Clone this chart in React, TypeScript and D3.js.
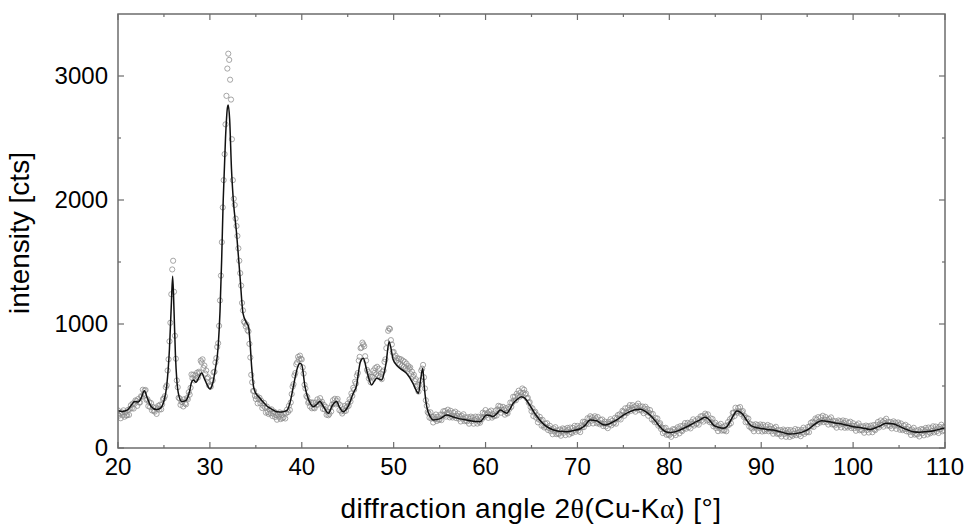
import React from 'react';
import * as d3 from 'd3';

// diffraction angle grid: 20.0 .. 110.0 step 0.1 (one row per degree)
const ANGLE_START = 20;
const ANGLE_STEP = 0.1;

const observedCounts: number[] = [
  303, 261, 279, 240, 288, 266, 304, 252, 286, 262, // 20
  265, 308, 267, 316, 345, 320, 358, 318, 357, 384, // 21
  379, 340, 395, 367, 367, 417, 413, 470, 435, 463, // 22
  468, 388, 393, 338, 370, 331, 362, 303, 330, 300, // 23
  293, 326, 275, 317, 341, 310, 350, 312, 352, 395, // 24
  400, 418, 490, 505, 625, 715, 860, 1010, 1240, 1440, // 25
  1510, 1260, 905, 720, 545, 490, 405, 400, 348, 372, // 26
  371, 335, 393, 359, 352, 402, 393, 450, 430, 486, // 27
  593, 563, 591, 545, 585, 561, 607, 568, 615, 604, // 28
  705, 690, 715, 645, 665, 600, 625, 560, 570, 505, // 29
  500, 495, 545, 545, 610, 615, 690, 725, 815, 845, // 30
  985, 1190, 1390, 1660, 1940, 2160, 2370, 2610, 2840, 3060, // 31
  3180, 3130, 2970, 2810, 2490, 2160, 2010, 1960, 1850, 1790, // 32
  1710, 1610, 1510, 1410, 1310, 1170, 1110, 1020, 1010, 980, // 33
  995, 950, 940, 840, 730, 590, 530, 460, 460, 420, // 34
  395, 420, 360, 394, 405, 360, 380, 322, 342, 363, // 35
  327, 285, 334, 290, 274, 309, 280, 312, 258, 276, // 36
  293, 250, 268, 228, 275, 252, 287, 233, 265, 240, // 37
  247, 285, 238, 281, 310, 290, 340, 307, 367, 435, // 38
  495, 515, 585, 605, 675, 690, 735, 715, 745, 720, // 39
  715, 650, 600, 510, 480, 420, 410, 365, 372, 335, // 40
  367, 320, 367, 325, 320, 367, 348, 392, 350, 376, // 41
  402, 360, 373, 315, 348, 311, 332, 268, 293, 264, // 42
  275, 325, 295, 350, 385, 360, 397, 352, 381, 395, // 43
  357, 305, 345, 295, 278, 315, 296, 340, 300, 331, // 44
  358, 340, 392, 375, 440, 420, 485, 470, 535, 520, // 45
  585, 605, 705, 735, 805, 810, 850, 835, 820, 740, // 46
  705, 630, 615, 560, 575, 530, 575, 575, 625, 605, // 47
  645, 595, 655, 585, 640, 575, 600, 555, 615, 625, // 48
  695, 715, 805, 850, 945, 965, 960, 870, 835, 770, // 49
  775, 730, 745, 705, 725, 685, 720, 675, 715, 665, // 50
  705, 655, 695, 645, 680, 635, 660, 640, 650, 595, // 51
  615, 575, 590, 540, 555, 495, 505, 455, 510, 545, // 52
  625, 640, 670, 570, 480, 385, 340, 290, 280, 245, // 53
  288, 238, 250, 206, 253, 232, 270, 218, 252, 228, // 54
  230, 270, 225, 270, 296, 265, 299, 253, 283, 309, // 55
  286, 247, 300, 259, 246, 284, 258, 293, 241, 260, // 56
  278, 236, 254, 214, 260, 237, 272, 217, 248, 221, // 57
  215, 248, 196, 235, 253, 216, 245, 196, 225, 253, // 58
  234, 197, 252, 214, 204, 247, 233, 285, 250, 278, // 59
  306, 264, 282, 243, 292, 270, 302, 245, 275, 256, // 60
  260, 302, 262, 312, 340, 308, 335, 284, 309, 332, // 61
  310, 269, 322, 284, 279, 329, 315, 367, 332, 366, // 62
  413, 383, 413, 385, 438, 421, 462, 413, 447, 423, // 63
  480, 445, 470, 430, 440, 400, 405, 365, 370, 330, // 64
  297, 320, 258, 285, 292, 245, 265, 207, 229, 251, // 65
  225, 180, 227, 182, 165, 197, 168, 200, 145, 161, // 66
  179, 135, 151, 111, 158, 134, 168, 112, 142, 115, // 67
  115, 149, 99, 138, 158, 123, 152, 104, 134, 162, // 68
  145, 109, 165, 128, 120, 162, 140, 179, 131, 154, // 69
  178, 140, 163, 128, 182, 168, 212, 168, 210, 194, // 70
  201, 240, 194, 236, 256, 219, 247, 198, 227, 256, // 71
  239, 200, 250, 207, 192, 227, 198, 230, 177, 196, // 72
  213, 174, 196, 160, 211, 192, 232, 183, 220, 199, // 73
  205, 244, 196, 240, 265, 236, 272, 230, 266, 300, // 74
  292, 260, 320, 287, 282, 326, 306, 346, 299, 322, // 75
  346, 308, 330, 293, 342, 321, 358, 305, 337, 311, // 76
  301, 334, 281, 317, 333, 292, 315, 260, 284, 306, // 77
  275, 230, 275, 227, 209, 242, 210, 238, 180, 192, // 78
  200, 153, 165, 120, 160, 131, 163, 106, 136, 109, // 79
  104, 139, 90, 131, 152, 118, 150, 104, 136, 167, // 80
  152, 118, 176, 142, 136, 180, 160, 201, 155, 180, // 81
  203, 168, 192, 158, 210, 192, 231, 181, 217, 196, // 82
  196, 235, 188, 230, 255, 224, 258, 213, 246, 277, // 83
  263, 222, 271, 227, 208, 239, 206, 234, 175, 191, // 84
  204, 160, 177, 136, 183, 160, 195, 140, 170, 143, // 85
  142, 181, 135, 180, 210, 188, 232, 200, 245, 285, // 86
  282, 258, 325, 295, 285, 323, 296, 330, 275, 289, // 87
  298, 250, 258, 208, 243, 211, 237, 173, 195, 164, // 88
  156, 188, 135, 173, 192, 156, 185, 136, 164, 190, // 89
  171, 133, 187, 147, 136, 175, 150, 186, 135, 155, // 90
  176, 135, 154, 115, 161, 137, 171, 115, 145, 117, // 91
  111, 144, 93, 131, 149, 112, 140, 90, 119, 146, // 92
  127, 89, 144, 106, 97, 138, 115, 153, 103, 124, // 93
  147, 109, 131, 95, 145, 125, 164, 114, 150, 129, // 94
  130, 170, 127, 175, 203, 175, 212, 170, 206, 238, // 95
  227, 192, 249, 213, 205, 247, 223, 260, 209, 229, // 96
  250, 209, 228, 189, 235, 212, 247, 191, 221, 193, // 97
  182, 215, 164, 203, 222, 186, 215, 166, 195, 222, // 98
  202, 163, 217, 177, 165, 203, 177, 212, 161, 180, // 99
  200, 159, 178, 139, 186, 163, 198, 143, 174, 147, // 100
  142, 175, 123, 162, 181, 145, 174, 125, 153, 180, // 101
  162, 127, 185, 150, 144, 188, 168, 210, 165, 191, // 102
  222, 185, 208, 172, 221, 200, 236, 181, 212, 185, // 103
  175, 209, 158, 197, 215, 178, 205, 154, 181, 206, // 104
  186, 147, 198, 157, 144, 180, 153, 187, 135, 153, // 105
  172, 129, 146, 105, 150, 128, 163, 108, 140, 113, // 106
  109, 144, 93, 133, 153, 118, 149, 102, 133, 162, // 107
  145, 109, 165, 128, 119, 160, 137, 175, 126, 149, // 108
  173, 135, 157, 121, 171, 151, 188, 135, 168, 143, // 109
  170, // 110
];

// fitted profile: [2θ, counts]
const fitProfile: [number, number][] = [
  [20, 300], [20.5, 295], [21, 305], [21.5, 350], [21.8, 375], [22.2, 370], [22.5, 400],
  [22.87, 462], [23.2, 400], [23.6, 335], [24.2, 310], [24.6, 320], [25, 380], [25.3, 500],
  [25.6, 800], [25.8, 1150], [25.95, 1385], [26.1, 1100], [26.25, 750], [26.4, 548],
  [26.6, 430], [26.93, 374], [27.4, 385], [27.8, 460], [28, 530], [28.2, 548], [28.5, 530],
  [28.8, 570], [29.1, 604], [29.4, 560], [29.7, 510], [30, 476], [30.3, 520], [30.6, 640],
  [30.9, 817], [31.1, 1100], [31.28, 1516], [31.45, 2000], [31.7, 2500], [31.9, 2740],
  [32, 2766], [32.15, 2650], [32.35, 2250], [32.55, 2000], [32.9, 1734], [33.28, 1381],
  [33.6, 1088], [34, 1008], [34.2, 981], [34.37, 850], [34.55, 650], [34.75, 495], [35, 440],
  [35.3, 414], [35.8, 370], [36.2, 339], [36.8, 310], [37.3, 293], [37.8, 290], [38.36, 301],
  [38.7, 360], [39.08, 495], [39.5, 640], [39.8, 683], [40, 670], [40.35, 495], [40.6, 420],
  [40.9, 363], [41.25, 333], [41.6, 350], [41.98, 374], [42.4, 330], [42.9, 280], [43.3, 340],
  [43.8, 374], [44.1, 330], [44.5, 293], [45, 330], [45.6, 441], [45.97, 505], [46.15, 600],
  [46.4, 700], [46.7, 723], [47.06, 629], [47.3, 560], [47.6, 508], [47.9, 540], [48.15, 562],
  [48.7, 548], [49, 620], [49.17, 683], [49.5, 857], [49.96, 710], [50.3, 670], [50.7, 642],
  [51.4, 602], [52.1, 521], [52.5, 458], [52.7, 441], [52.95, 560], [53.16, 642], [53.35, 480],
  [53.6, 333], [54, 250], [54.3, 226], [55, 235], [55.76, 266], [56.5, 250], [57.2, 235],
  [57.9, 226], [58.7, 215], [59.4, 212], [60.1, 266], [60.5, 262], [60.8, 253], [61.2, 275],
  [61.6, 306], [62.3, 280], [62.7, 320], [63, 360], [63.5, 395], [63.9, 414], [64.3, 400],
  [64.8, 347], [65.3, 285], [65.9, 226], [66.5, 180], [67.4, 145], [68, 135], [68.8, 132],
  [69.5, 140], [70.3, 155], [70.8, 180], [71.37, 226], [72.1, 220], [72.5, 200], [73, 185],
  [73.6, 200], [74.27, 226], [75, 265], [75.7, 293], [76.8, 312], [77.3, 300], [77.9, 266],
  [78.5, 215], [78.98, 172], [79.5, 135], [80.07, 124], [80.6, 130], [81.16, 145], [82, 175],
  [82.6, 199], [83.3, 225], [83.9, 247], [84.3, 230], [84.8, 185], [85.4, 165], [85.9, 159],
  [86.3, 175], [86.6, 212], [87, 265], [87.33, 298], [87.7, 290], [88.05, 266], [88.4, 225],
  [88.8, 185], [89.3, 168], [89.9, 159], [90.6, 150], [91.3, 145], [92.2, 128], [93.1, 113],
  [93.9, 118], [94.6, 132], [95.2, 155], [95.7, 185], [96.2, 210], [96.6, 220], [97.4, 212],
  [98.2, 199], [99, 190], [100, 172], [101, 162], [101.8, 150], [102.7, 170], [103.6, 199],
  [104.3, 195], [105.1, 172], [105.8, 150], [106.5, 132], [107.3, 128], [107.96, 132],
  [108.8, 140], [109.8, 159], [110, 162],
];

const xMajorTicks = [20, 30, 40, 50, 60, 70, 80, 90, 100, 110];
const xMinorTicks = [25, 35, 45, 55, 65, 75, 85, 95, 105];
const yMajorTicks = [0, 1000, 2000, 3000];
const yMinorTicks = [500, 1500, 2500];

const FONT = 'Arial, "Liberation Sans", Helvetica, sans-serif';
const SYMBOL_FONT = '"Liberation Serif", "DejaVu Serif", serif';

export default function App() {
  const W = 966;
  const H = 527;
  const L = 118, R = 945, T = 14, B = 448;
  const x = d3.scaleLinear().domain([20, 110]).range([L, R]);
  const y = d3.scaleLinear().domain([0, 3500]).range([B, T]);

  const obs = observedCounts.map((v, i) => [ANGLE_START + i * ANGLE_STEP, v] as [number, number]);
  const fitLine = d3
    .line<[number, number]>()
    .x((d) => x(d[0]))
    .y((d) => y(d[1]))
    .curve(d3.curveMonotoneX);

  const axisColor = '#6c6c6c';

  return (
    <svg
      width={W}
      height={H}
      viewBox={`0 0 ${W} ${H}`}
      style={{ position: 'absolute', left: 0, top: 0, background: '#fff' }}
    >
      <defs>
        <clipPath id="plotClip">
          <rect x={L} y={T} width={R - L} height={B - T} />
        </clipPath>
      </defs>
      <rect x={0} y={0} width={W} height={H} fill="#fff" />
      <g clipPath="url(#plotClip)">
        {obs.map((d, i) => (
          <circle
            key={i}
            cx={x(d[0])}
            cy={y(d[1])}
            r={2.6}
            fill="none"
            stroke="#8a8a8a"
            strokeWidth={0.75}
          />
        ))}
        <path d={fitLine(fitProfile) || ''} fill="none" stroke="#111" strokeWidth={1.5} />
      </g>
      <rect x={L} y={T} width={R - L} height={B - T} fill="none" stroke={axisColor} strokeWidth={1.5} />
      {xMajorTicks.map((t) => (
        <g key={'xm' + t}>
          <line x1={x(t)} x2={x(t)} y1={B} y2={B - 6} stroke={axisColor} strokeWidth={1.2} />
          <line x1={x(t)} x2={x(t)} y1={T} y2={T + 6} stroke={axisColor} strokeWidth={1.2} />
          <text x={x(t)} y={475} textAnchor="middle" fontFamily={FONT} fontSize={24} fill="#000">
            {t}
          </text>
        </g>
      ))}
      {xMinorTicks.map((t) => (
        <g key={'xn' + t}>
          <line x1={x(t)} x2={x(t)} y1={B} y2={B - 3} stroke={axisColor} strokeWidth={1.2} />
          <line x1={x(t)} x2={x(t)} y1={T} y2={T + 3} stroke={axisColor} strokeWidth={1.2} />
        </g>
      ))}
      {yMajorTicks.map((t) => (
        <g key={'ym' + t}>
          <line x1={L} x2={L + 6} y1={y(t)} y2={y(t)} stroke={axisColor} strokeWidth={1.2} />
          <line x1={R} x2={R - 6} y1={y(t)} y2={y(t)} stroke={axisColor} strokeWidth={1.2} />
          <text x={108} y={y(t) + 8} textAnchor="end" fontFamily={FONT} fontSize={24} fill="#000">
            {t}
          </text>
        </g>
      ))}
      {yMinorTicks.map((t) => (
        <g key={'yn' + t}>
          <line x1={L} x2={L + 3} y1={y(t)} y2={y(t)} stroke={axisColor} strokeWidth={1.2} />
          <line x1={R} x2={R - 3} y1={y(t)} y2={y(t)} stroke={axisColor} strokeWidth={1.2} />
        </g>
      ))}
      <text
        x={531}
        y={518}
        textAnchor="middle"
        fontFamily={FONT}
        fontSize={28}
        letterSpacing={0.5}
        fill="#000"
      >
        diffraction angle 2<tspan fontFamily={SYMBOL_FONT}>θ</tspan>(Cu-K
        <tspan fontFamily={SYMBOL_FONT}>α</tspan>) [°]
      </text>
      <text
        transform="translate(29,233) rotate(-90)"
        textAnchor="middle"
        fontFamily={FONT}
        fontSize={28}
        fill="#000"
      >
        intensity [cts]
      </text>
    </svg>
  );
}
